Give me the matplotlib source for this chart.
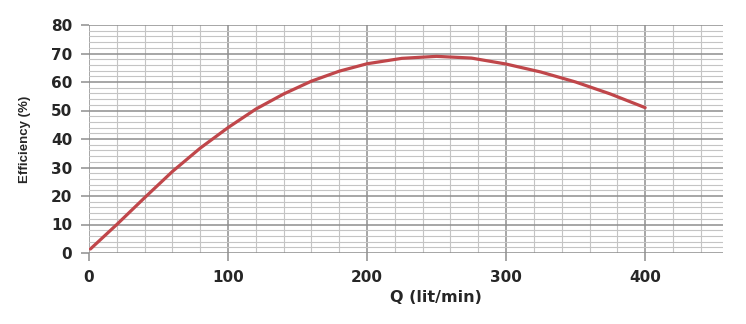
import matplotlib.pyplot as plt
import numpy as np
from matplotlib.ticker import MultipleLocator

# flow rate (lit/min) and efficiency (%)
q = [1, 20, 40, 60, 80, 100, 120, 140, 160, 180, 200, 225, 250, 275, 300, 325, 350, 375, 400]
eff = [1.4, 10.0, 19.4, 28.6, 36.8, 44.0, 50.5, 55.8, 60.3, 63.8, 66.4, 68.3, 69.0, 68.4, 66.3, 63.5, 60.0, 55.8, 51.0]

xlim = (0, 456)
ylim = (0, 80)

fig = plt.figure(figsize=(7.46, 3.24), dpi=100)
ax = fig.add_axes([89 / 746, 1 - 253 / 324, (723 - 89) / 746, (253 - 25) / 324])

ax.xaxis.set_major_locator(MultipleLocator(100))
ax.xaxis.set_minor_locator(MultipleLocator(20))
ax.yaxis.set_major_locator(MultipleLocator(10))
ax.yaxis.set_minor_locator(MultipleLocator(2))
ax.grid(which='minor', color='#c4c4c4', linewidth=0.8)
ax.grid(which='major', color='#8e8e8e', linewidth=1.1)
ax.set_axisbelow(True)
for s in ax.spines.values():
    s.set_visible(False)
ax.tick_params(which='minor', length=0)
ax.tick_params(which='major', length=6, color='#8e8e8e', width=1.1,
               labelsize=11, labelcolor='#262626', pad=6)
for lab in ax.get_xticklabels() + ax.get_yticklabels():
    lab.set_fontweight('bold')

ax.plot(q, eff, color='#c0464a', linewidth=2.3, solid_capstyle='round')
ax.set_xlim(xlim)
ax.set_ylim(ylim)

fig.text(436 / 746, 1 - 298 / 324, 'Q (lit/min)', ha='center', va='center',
         fontsize=11.5, fontweight='bold', color='#262626')
fig.text(25 / 746, 1 - 139 / 324, 'Efficiency (%)', ha='center', va='center',
         rotation=90, fontsize=9.5, fontweight='bold', color='#262626',
         family=['Liberation Sans', 'DejaVu Sans'])

plt.savefig('out.png', dpi=100)
